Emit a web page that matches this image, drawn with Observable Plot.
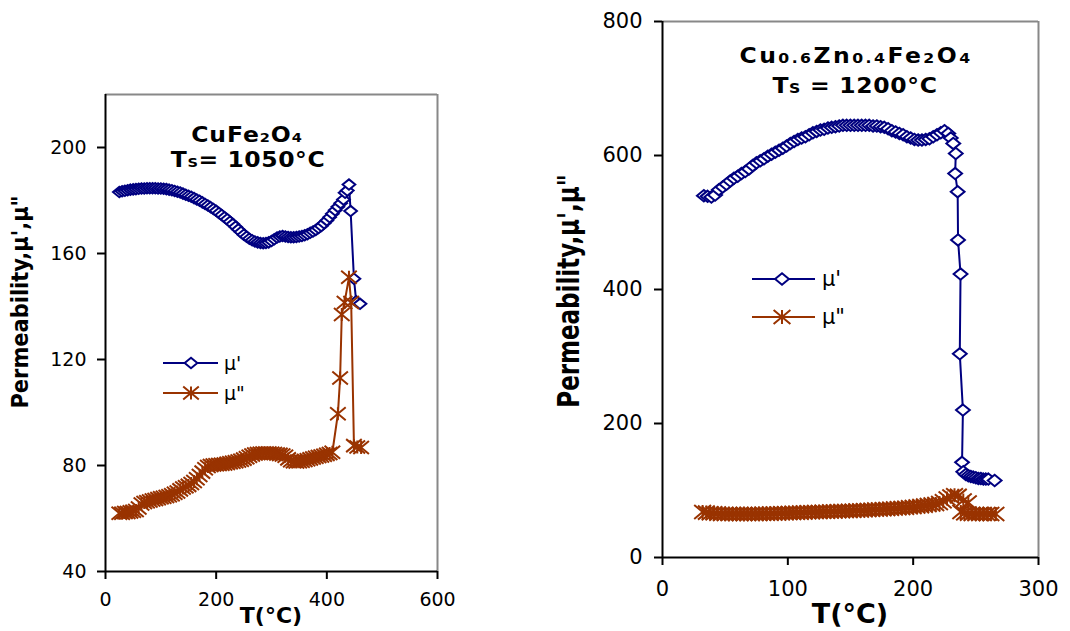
<!DOCTYPE html>
<html><head><meta charset="utf-8">
<script src="https://cdn.jsdelivr.net/npm/d3@7"></script>
<script src="https://cdn.jsdelivr.net/npm/@observablehq/plot@0.6"></script>
<style>
html,body{margin:0;padding:0;background:#fff;}
#wrap{position:relative;width:1070px;height:631px;overflow:hidden;background:#fff;}
#left,#right{position:absolute;top:0;}
#left{left:0;} #right{left:540px;}
</style></head><body><div id="wrap"><div id="left"></div><div id="right"></div></div>
<script>
// ---------- Left panel: CuFe2O4, Ts = 1050°C ----------
const leftMu1T = [25,30,35,40,45,50,55,60,65,70,75,80,85,90,95,100,105,110,115,120,125,130,135,140,145,150,155,160,165,170,175,180,185,190,195,200,205,210,215,220,225,230,235,240,245,250,255,260,265,270,275,280,285,290,295,300,305,310,315,320,325,330,335,340,345,350,355,360,365,370,375,380,385,390,395,400,405,410,415,420,425,430,433,437,440,443,449,453,460];
const leftMu1 = [183.2,183.5,183.7,183.9,184.1,184.2,184.3,184.4,184.5,184.5,
 184.6,184.6,184.6,184.6,184.5,184.5,184.4,184.3,184.1,183.9,
 183.6,183.3,183.0,182.6,182.2,181.8,181.4,180.9,180.4,179.9,
 179.3,178.7,178.1,177.5,176.8,176.1,175.3,174.5,173.7,172.9,
 172.0,171.1,170.1,169.1,168.1,167.1,166.3,165.6,165.0,164.5,
 164.2,164.0,163.9,164.0,164.2,164.7,165.4,166.0,166.4,166.6,
 166.4,166.2,166.1,166.1,166.2,166.4,166.6,166.9,167.3,167.8,
 168.3,168.9,169.6,170.4,171.4,172.5,173.7,175.0,176.3,177.6,
 179.0,180.4,182.9,183.8,186.0,176.0,150.5,142.0,141.0];
const leftMu2T = [25,30,35,40,45,50,55,60,65,70,75,80,85,90,95,100,105,110,115,120,125,130,135,140,145,150,155,160,165,170,175,180,185,190,195,200,205,210,215,220,225,230,235,240,245,250,255,260,265,270,275,280,285,290,295,300,305,310,315,320,325,330,335,340,345,350,355,360,365,370,375,380,385,390,395,400,405,410,420,424,427,432,440,444,449,455,462];
const leftMu2 = [62,62,62.3,62.3,62.5,62.7,63,64,65.5,66,
 66.3,66.6,67,67.2,67.5,67.8,68,68.3,68.6,69,
 69.5,70,70.8,71.5,72,72.5,73.2,74,75,76.2,
 77.5,78.8,79.6,80,80.2,80.3,80.4,80.5,80.6,80.8,
 81,81.2,81.4,81.7,82,82.4,82.9,83.5,84,84.3,
 84.5,84.6,84.7,84.7,84.7,84.6,84.5,84.3,84.2,84,
 83.5,82.5,81.8,81.4,81.3,81.4,81.6,81.9,82.2,82.5,
 82.8,83.1,83.4,83.6,83.9,84.2,84.5,85,
 99.5,113,137,141.5,151,141.5,87.5,87,86.8];
const leftXTicks = [0,200,400,600];
const leftYTicks = [40,80,120,160,200];

// ---------- Right panel: Cu0.6Zn0.4Fe2O4, Ts = 1200°C ----------
const rightMu1T = [33,36,39,42,45,48,51,54,57,60,63,66,69,72,75,78,81,84,87,90,93,96,99,102,105,108,111,114,117,120,123,126,129,132,135,138,141,144,147,150,153,156,159,162,165,168,171,174,177,180,183,186,189,192,195,198,201,204,207,210,213,216,219,222,225,228,230,232,234,233.5,235.5,235.8,237.8,237.2,239.7,239,240,242,244,246,248,250,252,254,256,258,260,265];
const rightMu1 = [540,539,538,541,549,553,557,562,566,569,
 573,576,580,585,589,592,595,599,602,605,
 608,611,614,618,621,624,626,628,631,634,
 636,638,639,641,642,643,644,645,645,645,
 645,645,645,645,645,644,644,643,642,640,
 637,635,633,631,628,626,624,623,623,624,
 625,628,631,634,637,
 633,626,618,603,573,546,474,423,304,220,142,
 128,124,122,121,120,119,118,118,117,117,117,115];
const rightMu2T = [32,35,38,41,44,47,50,53,56,59,62,65,68,71,74,77,80,83,86,89,92,95,98,101,104,107,110,113,116,119,122,125,128,131,134,137,140,143,146,149,152,155,158,161,164,167,170,173,176,179,182,185,188,191,194,197,200,203,206,209,212,215,218,221,224,227,230,233,236,240,244,238,241,244,247,250,253,256,259,262,266];
const rightMu2 = [68,67,66,66,65.5,65,65,65,65,65,
 65,65,65,65,65,65,65.2,65.4,65.5,65.6,
 65.8,66,66.2,66.4,66.6,66.8,67,67.2,67.4,67.6,
 67.8,68,68.2,68.4,68.6,68.8,69,69.2,69.4,69.6,
 69.8,70,70.3,70.6,70.9,71.2,71.5,71.8,72.1,72.4,
 72.7,73.1,73.5,73.9,74.4,74.9,75.4,76,76.7,77.4,
 78.2,79,80,81.5,84,88,91,93,
 92,85,82,68,66,65.5,65,65,65,65,65,65,65];
const rightXTicks = [0,100,200,300];
const rightYTicks = [0,200,400,600,800];

const seriesNames = ["\u03bc'", "\u03bc\""];
const yTitle = "Permeability,\u03bc',\u03bc\"";
const xTitle = "T(\u00b0C)";

const BLUE = "#000080", BROWN = "#993300", FRAME = "#888888";
const FONT = "DejaVu Sans";

const diamondSym = {draw(ctx, size){const r=Math.sqrt(size/Math.PI); const w=r*1.15, h=r*0.95;
  ctx.moveTo(0,-h); ctx.lineTo(w,0); ctx.lineTo(0,h); ctx.lineTo(-w,0); ctx.closePath();}};
const starSym = {draw(ctx, size){const r=Math.sqrt(size/Math.PI); const w=r*1.2, h=r*1.0;
  ctx.moveTo(0,-h); ctx.lineTo(0,h); ctx.moveTo(-w,-h); ctx.lineTo(w,h); ctx.moveTo(-w,h); ctx.lineTo(w,-h);}};

function symPath(sym, r){ const p = d3.path(); sym.draw(p, r*r*Math.PI); return p.toString(); }

function panel(c){
  const s1 = c.T1.map((t,i)=>({T:t, v:c.V1[i]}));
  const s2 = c.T2.map((t,i)=>({T:t, v:c.V2[i]}));
  const svg = Plot.plot({
    width: c.width, height: 631,
    marginLeft: c.mL, marginRight: c.mR, marginTop: c.mT, marginBottom: c.mB,
    style: {fontFamily: FONT, fontSize: c.tickFont + "px", color: "#000", background: "#fff", overflow: "visible"},
    x: {domain: c.xDomain},
    y: {domain: c.yDomain},
    marks: [
      Plot.ruleY([c.yDomain[1]], {stroke: FRAME, strokeWidth: 2}),
      Plot.ruleX([c.xDomain[1]], {stroke: FRAME, strokeWidth: 2}),
      Plot.axisX({ticks: c.xTicks, tickSize: 8, tickPadding: c.xPad, strokeWidth: 2, fontSize: c.tickFont, label: null, tickFormat: d => String(d)}),
      Plot.axisY({ticks: c.yTicks, tickSize: 8, tickPadding: c.yPad, strokeWidth: 2, fontSize: c.tickFont, label: null, tickFormat: d => String(d)}),
      Plot.ruleX([c.xDomain[0]], {stroke: "#000", strokeWidth: 2}),
      Plot.ruleY([c.yDomain[0]], {stroke: "#000", strokeWidth: 2}),
      Plot.line(s1, {x: "T", y: "v", stroke: BLUE, strokeWidth: 2}),
      Plot.dot(s1, {x: "T", y: "v", symbol: diamondSym, r: c.dR, stroke: BLUE, strokeWidth: 2, fill: "white"}),
      Plot.line(s2, {x: "T", y: "v", stroke: BROWN, strokeWidth: 2}),
      Plot.dot(s2, {x: "T", y: "v", symbol: starSym, r: c.sR, stroke: BROWN, strokeWidth: 2, fill: "none"})
    ]
  });
  const g = d3.select(svg);
  // annotation (compound and sintering temperature)
  c.notes.forEach(n => {
    const t = g.append("text").attr("transform", `translate(${n.x},${n.y}) scale(1.12,1)`).attr("text-anchor", "middle")
      .attr("font-family", FONT).attr("font-weight", "bold").attr("font-size", c.noteFont)
      .attr("letter-spacing", n.ls).attr("fill", "#000");
    n.parts.forEach(([s, small]) => t.append("tspan").attr("font-size", small ? c.noteSmall : c.noteFont).text(s));
  });
  // axis titles
  g.append("text").attr("x", c.xtX).attr("y", c.xtY).attr("text-anchor", "middle")
    .attr("font-family", FONT).attr("font-weight", "bold").attr("font-size", c.xtFont).attr("fill", "#000").text(xTitle);
  g.append("text").attr("transform", `translate(${c.ytX},${c.ytY}) rotate(-90) scale(1,${c.ytScale})`).attr("text-anchor", "middle")
    .attr("font-family", FONT).attr("font-weight", "bold").attr("font-size", c.ytFont).attr("fill", "#000").text(yTitle);
  // legend
  const L = c.legend;
  [[BLUE, diamondSym, "white", c.dR], [BROWN, starSym, "none", c.sR]].forEach(([col, sym, fill, r], i) => {
    const y = L.y + i * L.dy;
    g.append("line").attr("x1", L.x1).attr("x2", L.x2).attr("y1", y).attr("y2", y).attr("stroke", col).attr("stroke-width", 2);
    g.append("path").attr("d", symPath(sym, r)).attr("transform", `translate(${L.xm},${y})`)
      .attr("stroke", col).attr("stroke-width", 2).attr("fill", fill);
    g.append("text").attr("x", L.xt).attr("y", y).attr("dy", "0.35em").attr("text-anchor", "start")
      .attr("font-family", FONT).attr("font-size", L.font).attr("fill", "#000").text(seriesNames[i]);
  });
  return svg;
}

document.getElementById("left").appendChild(panel({
  width: 540, mL: 105, mR: 103, mT: 94, mB: 60,
  xDomain: [0,600], yDomain: [40,220], xTicks: leftXTicks, yTicks: leftYTicks,
  T1: leftMu1T, V1: leftMu1, T2: leftMu2T, V2: leftMu2,
  tickFont: 19, xPad: 13, yPad: 11, dR: 5.5, sR: 6.5,
  noteFont: 21, noteSmall: 13,
  notes: [
    {x: 247, y: 142, ls: 0.8, parts: [["CuFe"],["2",1],["O"],["4",1]]},
    {x: 248, y: 167, ls: 0.5, parts: [["T"],["S",1],["= 1050\u00b0C"]]}
  ],
  xtX: 271, xtY: 623, xtFont: 22,
  ytX: 28, ytY: 302, ytFont: 21, ytScale: 1.1,
  legend: {x1: 163, x2: 218, xm: 191, xt: 224, y: 363, dy: 30, font: 19}
}));

document.getElementById("right").appendChild(panel({
  width: 530, mL: 122, mR: 32, mT: 21, mB: 74,
  xDomain: [0,300], yDomain: [0,800], xTicks: rightXTicks, yTicks: rightYTicks,
  T1: rightMu1T, V1: rightMu1, T2: rightMu2T, V2: rightMu2,
  tickFont: 21, xPad: 16, yPad: 12, dR: 6, sR: 7,
  noteFont: 21, noteSmall: 14,
  notes: [
    {x: 316, y: 63, ls: 2.2, parts: [["Cu"],["0.6",1],["Zn"],["0.4",1],["Fe"],["2",1],["O"],["4",1]]},
    {x: 315, y: 93, ls: 0.6, parts: [["T"],["S",1],[" = 1200\u00b0C"]]}
  ],
  xtX: 310, xtY: 623, xtFont: 27,
  ytX: 39, ytY: 291, ytFont: 23, ytScale: 1.3,
  legend: {x1: 212, x2: 275, xm: 242, xt: 282, y: 279, dy: 38, font: 21}
}));
</script>
</body></html>
